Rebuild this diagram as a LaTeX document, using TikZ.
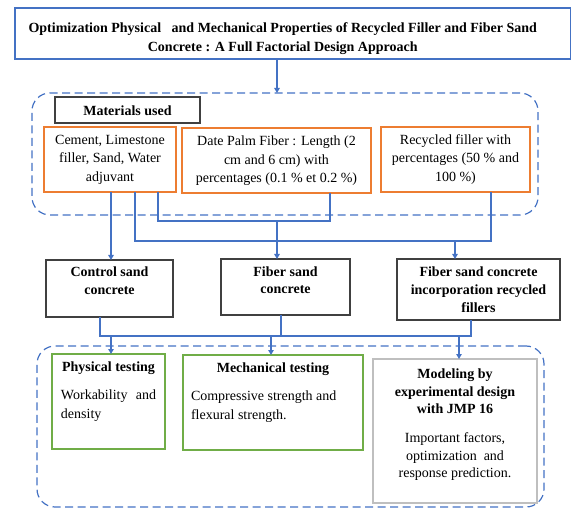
\documentclass[tikz,border=0pt]{standalone}
\usepackage{fontspec}
\setmainfont{Liberation Serif}
\usetikzlibrary{arrows.meta}
\definecolor{cblue}{HTML}{4472C4}
\definecolor{corange}{HTML}{ED7D31}
\definecolor{cgreen}{HTML}{70AD47}
\definecolor{cgray}{HTML}{BFBFBF}
\definecolor{cdark}{HTML}{404040}
% #1 width, #2 height, #3 first baseline offset, #4 text
\newcommand{\bxc}[4]{\parbox[c][#2][t]{#1}{\centering\rule{0pt}{#3}#4\par}}
\tikzset{
  bx/.style={inner sep=0pt, outer sep=0pt, line width=1.2pt},
  obox/.style={bx, draw=corange},
  kbox/.style={bx, draw=cdark, line width=1.3pt},
  gbox/.style={bx, draw=cgreen},
  ybox/.style={bx, draw=cgray},
  grp/.style={draw=cblue, line width=1.2pt, dash pattern=on 8pt off 4.5pt, rounded corners=18pt, inner sep=0pt, outer sep=0pt},
  conn/.style={draw=cblue, line width=1.2pt},
  arr/.style={-{Triangle[width=5.5pt,length=5pt]}}
}
\begin{document}
\begin{tikzpicture}[x=1pt,y=-1pt]
\useasboundingbox (0,0) rectangle (571,508);
\fontsize{14}{18.5}\selectfont

% title
\node[bx, draw=cblue] (title) at (292.75,33.5)
  {\parbox[c][51pt][t]{555.5pt}{\centering\rightskip=20pt plus 1fil\fontsize{14}{19}\selectfont\bfseries
   \rule{0pt}{24.5pt}Optimization Physical\ \ \ and Mechanical Properties of Recycled Filler and Fiber Sand\\
   Concrete : A Full Factorial Design Approach\par}};

% group boxes
\node[grp, minimum width=506pt, minimum height=122pt] (grp1) at (285,154) {};
\node[grp, minimum width=507pt, minimum height=161pt] (grp2) at (290.5,426.5) {};

% materials
\node[kbox] (mat) at (127.5,110) {\bxc{145pt}{26pt}{18.5pt}{\bfseries Materials used}};
\node[obox] (A) at (110,159.5) {\bxc{132pt}{65pt}{17.5pt}{Cement, Limestone\\filler, Sand, Water\\adjuvant}};
\node[obox] (B) at (276.5,160.5) {\bxc{189pt}{65pt}{18pt}{Date Palm Fiber : Length (2\\cm and 6 cm) with\\percentages (0.1 \% et 0.2 \%)}};
\node[obox] (C) at (455.5,159.5) {\bxc{149pt}{65pt}{17.5pt}{Recycled filler with\\percentages (50 \% and\\100 \%)}};

% concretes
\node[kbox] (ctrl) at (109.5,288.5) {\bxc{127pt}{57pt}{16.5pt}{\fontsize{14}{18}\selectfont\bfseries Control sand\\concrete}};
\node[kbox] (fs) at (285.5,287) {\bxc{129pt}{56pt}{17pt}{\fontsize{14}{18}\selectfont\bfseries Fiber sand\\concrete}};
\node[kbox] (fr) at (478.5,289.5) {\bxc{163pt}{61pt}{17.5pt}{\fontsize{14}{18}\selectfont\bfseries Fiber sand concrete\\incorporation recycled\\fillers}};

% testing
\node[gbox] (phys) at (108.5,401.5)
  {\parbox[c][95pt][t]{113pt}{\centering\rule{0pt}{17.5pt}\textbf{Physical testing}\par
   \vspace{9.5pt}\raggedright\leftskip=9pt\rightskip=9pt\noindent Workability\hfill and\\density\par}};
\node[gbox] (mech) at (273,402.5)
  {\parbox[c][95pt][t]{180pt}{\centering\rule{0pt}{17.5pt}\textbf{Mechanical testing}\par
   \vspace{9.5pt}\raggedright\leftskip=8pt\noindent Compressive strength and\\flexural strength.\par}};
\node[ybox] (model) at (455,431)
  {\parbox[c][144pt][t]{164pt}{\centering\fontsize{14}{17.5}\selectfont\rule{0pt}{19.5pt}\textbf{Modeling by}\\\textbf{experimental design}\\\textbf{with JMP 16}\par
   \vspace{11.5pt}Important factors,\\optimization\ \ and\\response prediction.\par}};

% connector coordinates
\coordinate (t1) at (277,0);
\coordinate (xa) at (111,0);
\coordinate (jb) at (135,241);
\coordinate (jc) at (491,241);
\coordinate (jd) at (158,221);
\coordinate (je) at (330,221);
\coordinate (jf) at (277,221);
\coordinate (jg) at (455,241);
\coordinate (jh) at (100,336);
\coordinate (ji) at (471,336);
\coordinate (jj) at (281,336);
\coordinate (jk) at (111,336);
\coordinate (jl) at (271,336);
\coordinate (jm) at (459,336);

% connectors
\draw[conn,arr] (title.south -| t1) -- (grp1.north -| t1);
\draw[conn,arr] (A.south -| xa) -- (ctrl.north -| xa);
\draw[conn] (A.south -| jb) -- (jb) -- (jc) -- (C.south -| jc);
\draw[conn] (A.south -| jd) -- (jd) -- (je) -- (B.south -| je);
\draw[conn,arr] (jf) -- (fs.north -| jf);
\draw[conn,arr] (jg) -- (fr.north -| jg);
\draw[conn] (ctrl.south -| jh) -- (jh) -- (ji) -- (fr.south -| ji);
\draw[conn] (fs.south -| jj) -- (jj);
\draw[conn,arr] (jk) -- (phys.north -| jk);
\draw[conn,arr] (jl) -- (mech.north -| jl);
\draw[conn,arr] (jm) -- (model.north -| jm);
\end{tikzpicture}
\end{document}
